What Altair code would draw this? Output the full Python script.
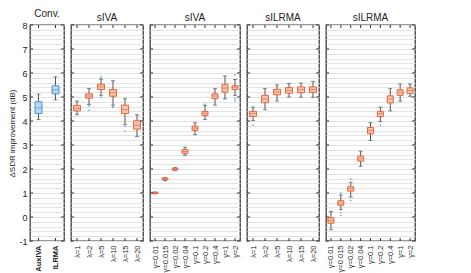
import altair as alt
import pandas as pd

Y_TITLE = "ΔSDR improvement (dB)"
titles = ["Conv.", "sIVA", "sIVA", "sILRMA", "sILRMA"]

conv_cats = ["AuxIVA", "ILRMA"]
lam_cats = ["λ=1", "λ=2", "λ=5", "λ=10", "λ=15", "λ=20"]
gam_cats = ["γ=0.01", "γ=0.015", "γ=0.02", "γ=0.04", "γ=0.1", "γ=0.2", "γ=0.4", "γ=1", "γ=2"]

# Conv.
conv_lo = [4.06, 4.88]
conv_q1 = [4.31, 5.13]
conv_med = [4.55, 5.30]
conv_q3 = [4.80, 5.47]
conv_hi = [5.12, 5.84]
conv_out_cat = []
conv_out_val = []

# sIVA, lambda
siva_l_lo = [4.26, 4.69, 5.07, 4.66, 3.85, 3.35]
siva_l_q1 = [4.42, 4.95, 5.31, 5.03, 4.31, 3.66]
siva_l_med = [4.53, 5.04, 5.42, 5.18, 4.47, 3.82]
siva_l_q3 = [4.65, 5.13, 5.53, 5.31, 4.66, 4.01]
siva_l_hi = [4.83, 5.35, 5.74, 5.68, 4.93, 4.26]
siva_l_out_cat = ["λ=2", "λ=2", "λ=5", "λ=5", "λ=5", "λ=10", "λ=10", "λ=15", "λ=15"]
siva_l_out_val = [4.62, 4.45, 5.84, 5.78, 4.99, 4.60, 4.56, 3.77, 3.58]

# sIVA, gamma
siva_g_lo = [0.96, 1.52, 1.93, 2.57, 3.43, 4.06, 4.66, 4.92, 5.07]
siva_g_q1 = [0.98, 1.55, 1.96, 2.65, 3.61, 4.23, 4.93, 5.20, 5.31]
siva_g_med = [1.00, 1.58, 1.99, 2.73, 3.70, 4.32, 5.04, 5.37, 5.41]
siva_g_q3 = [1.03, 1.62, 2.03, 2.81, 3.78, 4.40, 5.13, 5.53, 5.47]
siva_g_hi = [1.04, 1.65, 2.06, 2.91, 3.93, 4.65, 5.35, 5.88, 5.73]
siva_g_out_cat = ["γ=0.015", "γ=0.2", "γ=2", "γ=2", "γ=2"]
siva_g_out_val = [1.50, 4.70, 5.92, 4.93, 4.84]

# sILRMA, lambda
silrma_l_lo = [4.02, 4.47, 4.83, 5.00, 4.99, 4.99]
silrma_l_q1 = [4.19, 4.76, 5.09, 5.16, 5.18, 5.19]
silrma_l_med = [4.31, 4.92, 5.21, 5.27, 5.30, 5.31]
silrma_l_q3 = [4.40, 5.07, 5.32, 5.39, 5.42, 5.42]
silrma_l_hi = [4.58, 5.35, 5.50, 5.56, 5.58, 5.65]
silrma_l_out_cat = ["λ=1"]
silrma_l_out_val = [3.82]

# sILRMA, gamma
silrma_g_lo = [-0.53, 0.31, 0.83, 2.11, 3.19, 3.97, 4.42, 4.83, 5.03]
silrma_g_q1 = [-0.26, 0.49, 1.08, 2.33, 3.47, 4.19, 4.75, 5.07, 5.15]
silrma_g_med = [-0.15, 0.58, 1.18, 2.43, 3.61, 4.31, 4.92, 5.20, 5.27]
silrma_g_q3 = [-0.03, 0.68, 1.26, 2.54, 3.73, 4.40, 5.05, 5.30, 5.38]
silrma_g_hi = [0.23, 0.92, 1.45, 2.74, 3.93, 4.58, 5.35, 5.54, 5.54]
silrma_g_out_cat = ["γ=0.015", "γ=0.015", "γ=0.015", "γ=0.02", "γ=0.02", "γ=0.2"]
silrma_g_out_val = [1.01, 0.18, 0.07, 1.57, 0.69, 3.82]

y_ticks = list(range(-1, 9))
grid_vals = [round(-1 + 0.2 * i, 1) for i in range(46)]

BLUE_FILL, BLUE_STROKE = "#b9d8f0", "#4a95d4"
OR_FILL, OR_STROKE = "#f8c4aa", "#e6693f"
WHISK = "#555555"
OUT = "#4a9ad8"
FONT = "Liberation Sans"
H = 216


def panel(cats, lo, q1, med, q3, hi, out_cat, out_val, title, width,
          fill, stroke, first=False, box_w=7):
    df = pd.DataFrame({"cat": cats, "lo": lo, "q1": q1, "med": med, "q3": q3, "hi": hi})
    odf = pd.DataFrame({"cat": out_cat, "v": out_val})
    tdf = pd.DataFrame({"t": y_ticks})

    xaxis = alt.Axis(title=None, labelAngle=270, ticks=False, domain=False, grid=False,
                     labelFontSize=7.5, labelColor="#222", labelPadding=4,
                     labelFontWeight="bold" if first else "normal")
    if first:
        yaxis = alt.Axis(title=Y_TITLE, values=grid_vals, ticks=False, domain=False,
                         labelExpr="datum.value % 1 === 0 ? '' + datum.value : ''",
                         labelFontSize=9, labelColor="#222", labelPadding=3,
                         titleFontSize=8, titleFontWeight="normal", titleColor="#222",
                         titlePadding=2, gridColor="#e3e3e3", gridWidth=1)
    else:
        yaxis = alt.Axis(title=None, values=grid_vals, ticks=False, domain=False,
                         labels=False, gridColor="#e3e3e3", gridWidth=1)
    ys = alt.Scale(domain=[-1, 8], nice=False, zero=False)
    xs = alt.Scale(type="point", padding=0.5)

    def X():
        return alt.X("cat:N", sort=cats, scale=xs, axis=xaxis)

    base = alt.Chart(df)
    whisk = base.mark_rule(color=WHISK, strokeWidth=1).encode(
        x=X(), y=alt.Y("lo:Q", scale=ys, axis=yaxis), y2="hi:Q")
    cap_lo = base.mark_tick(color=WHISK, size=4, thickness=1).encode(
        x=X(), y=alt.Y("lo:Q", scale=ys, axis=yaxis))
    cap_hi = base.mark_tick(color=WHISK, size=4, thickness=1).encode(
        x=X(), y=alt.Y("hi:Q", scale=ys, axis=yaxis))
    box = base.mark_bar(size=box_w, fill=fill, stroke=stroke, strokeWidth=1).encode(
        x=X(), y=alt.Y("q1:Q", scale=ys, axis=yaxis), y2="q3:Q")
    medl = base.mark_tick(color=stroke, size=box_w, thickness=1).encode(
        x=X(), y=alt.Y("med:Q", scale=ys, axis=yaxis))
    outl = alt.Chart(odf).mark_circle(size=2.5, color=OUT, opacity=1).encode(
        x=X(), y=alt.Y("v:Q", scale=ys, axis=yaxis))
    lt = alt.Chart(tdf).mark_rule(color="#333", strokeWidth=1).encode(
        x=alt.value(0), x2=alt.value(3), y=alt.Y("t:Q", scale=ys, axis=yaxis))
    rt = alt.Chart(tdf).mark_rule(color="#333", strokeWidth=1).encode(
        x=alt.value(width - 3), x2=alt.value(width), y=alt.Y("t:Q", scale=ys, axis=yaxis))
    tt = base.mark_rule(color="#333", strokeWidth=1).encode(
        x=X(), y=alt.value(0), y2=alt.value(3))
    bt = base.mark_rule(color="#333", strokeWidth=1).encode(
        x=X(), y=alt.value(H - 3), y2=alt.value(H))

    return alt.layer(whisk, cap_lo, cap_hi, box, medl, outl, lt, rt, tt, bt).properties(
        width=width, height=H,
        title=alt.TitleParams(title, fontSize=10, fontWeight="normal", color="#222", offset=2, font=FONT))


p1 = panel(conv_cats, conv_lo, conv_q1, conv_med, conv_q3, conv_hi, conv_out_cat, conv_out_val,
           titles[0], 34, BLUE_FILL, BLUE_STROKE, first=True, box_w=7)
p2 = panel(lam_cats, siva_l_lo, siva_l_q1, siva_l_med, siva_l_q3, siva_l_hi, siva_l_out_cat, siva_l_out_val,
           titles[1], 72, OR_FILL, OR_STROKE, box_w=7)
p3 = panel(gam_cats, siva_g_lo, siva_g_q1, siva_g_med, siva_g_q3, siva_g_hi, siva_g_out_cat, siva_g_out_val,
           titles[2], 90, OR_FILL, OR_STROKE, box_w=6)
p4 = panel(lam_cats, silrma_l_lo, silrma_l_q1, silrma_l_med, silrma_l_q3, silrma_l_hi, silrma_l_out_cat,
           silrma_l_out_val, titles[3], 72, OR_FILL, OR_STROKE, box_w=7)
p5 = panel(gam_cats, silrma_g_lo, silrma_g_q1, silrma_g_med, silrma_g_q3, silrma_g_hi, silrma_g_out_cat,
           silrma_g_out_val, titles[4], 89, OR_FILL, OR_STROKE, box_w=6)

chart = alt.hconcat(p1, p2, p3, p4, p5, spacing=3).properties(padding=0).configure(
    font=FONT
).configure_view(stroke="#3a3a3a", strokeWidth=1.3).configure_axis(labelFont=FONT, titleFont=FONT)

chart.save("out.html", embed_options={"renderer": "svg", "actions": False})
